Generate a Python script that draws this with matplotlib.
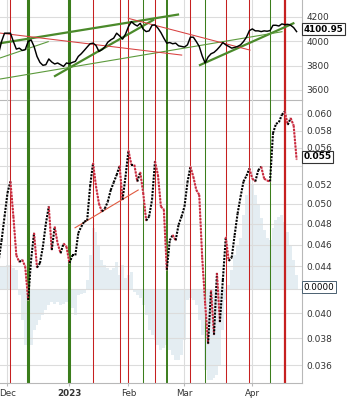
import matplotlib
matplotlib.use("Agg")
import matplotlib.pyplot as plt
import numpy as np
from matplotlib.ticker import FixedLocator, FuncFormatter, NullLocator
from matplotlib.transforms import blended_transform_factory

# trading-day index, 0 = 1 Dec 2022
days = np.arange(-3, 99)

price = [3900, 4000, 4067, 4067, 4067, 3998, 3936, 3944, 3925, 3931,
         3998, 4012, 3958, 3876, 3827, 3803, 3808, 3855, 3830, 3814,
         3822, 3808, 3794, 3822, 3816, 3827, 3835, 3876, 3898, 3925,
         3953, 3980, 3985, 3966, 3917, 3931, 3953, 3993, 4012, 4026,
         4067, 4045, 4018, 4059, 4121, 4162, 4140, 4126, 4148, 4100,
         4080, 4086, 4132, 4135, 4108, 4072, 4026, 3985, 3990, 3980,
         3985, 3963, 3958, 3953, 3971, 4034, 4034, 3998, 3958, 3880,
         3822, 3871, 3898, 3909, 3931, 3958, 3990, 3971, 3958, 3944,
         3950, 3958, 3971, 3998, 4034, 4088, 4102, 4086, 4086, 4080,
         4086, 4083, 4088, 4132, 4132, 4126, 4143, 4137, 4140, 4132,
         4113, 4080]

ratio = [0.0445, 0.0464, 0.0487, 0.0511, 0.0523, 0.0487, 0.0450, 0.0444, 0.0446, 0.0440,
         0.0411, 0.0446, 0.0471, 0.0439, 0.0443, 0.0458, 0.0480, 0.0497, 0.0455, 0.0477,
         0.0461, 0.0452, 0.0461, 0.0458, 0.0443, 0.0450, 0.0450, 0.0471, 0.0477, 0.0482,
         0.0483, 0.0518, 0.0543, 0.0518, 0.0500, 0.0492, 0.0495, 0.0502, 0.0514, 0.0522,
         0.0530, 0.0540, 0.0504, 0.0528, 0.0557, 0.0541, 0.0541, 0.0523, 0.0533, 0.0511,
         0.0483, 0.0487, 0.0504, 0.0545, 0.0530, 0.0497, 0.0494, 0.0437, 0.0464, 0.0469,
         0.0464, 0.0479, 0.0487, 0.0497, 0.0522, 0.0539, 0.0528, 0.0514, 0.0509, 0.0448,
         0.0408, 0.0376, 0.0419, 0.0383, 0.0434, 0.0393, 0.0428, 0.0467, 0.0445, 0.0448,
         0.0469, 0.0490, 0.0507, 0.0523, 0.0529, 0.0537, 0.0526, 0.0523, 0.0535, 0.0539,
         0.0526, 0.0524, 0.0523, 0.0577, 0.0588, 0.0590, 0.0599, 0.0603, 0.0587, 0.0595,
         0.0586, 0.0547]

# histogram indicator (x 1e-4)
hist = [23, 23, 23, 25, 25, 22, 20, -5, -30, -55,
        -60, -55, -40, -35, -30, -25, -20, -15, -12, -14,
        -12, -15, -14, -12, -10, -18, -25, -5, -4, -3,
        10, 35, 62, 58, 45, 30, 25, 22, 20, 22,
        28, 15, 25, 12, 15, 18, -2, -5, -8, -15,
        -25, -40, -45, -50, -55, -60, -58, -55, -60, -65,
        -70, -70, -65, -50, -10, -8, -10, -15, -30, -45,
        -80, -90, -90, -88, -85, -75, -40, -10, 5, 20,
        35, 45, 52, 75, 95, 110, 105, 95, 85, 72,
        60, 52, 50, 62, 70, 73, 75, 68, 58, 45,
        30, 15]

month_pos = [0, 21, 41, 60, 83]
month_labels = ["Dec", "2023", "Feb", "Mar", "Apr"]

price_ticks = [3600, 3800, 4000, 4200]
ratio_ticks = [0.036, 0.038, 0.040, 0.042, 0.044, 0.046, 0.048, 0.050,
               0.052, 0.054, 0.056, 0.058, 0.060]
hidden_ratio_labels = [0.042, 0.054]  # covered by the value boxes

last_price_label = "4100.95"
last_price = 4100.95
last_ratio = 0.055
last_hist = 0.0

# signal days
red_days = [1, 29, 38, 41, 50, 62, 74, 82]
red_thick_days = [94]
green_thick_days = [7, 21]
green_mid_days = [54]
green_thin_days = [46, 67, 89]

# trend lines on the price panel: (x0, y0, x1, y1)
green_thick_lines = [(-2.54, 3984, 57.8, 4220),
                     (16.1, 3715, 49.4, 4175),
                     (65.25, 3805, 96.9, 4148)]
green_thin_lines = [(-2.54, 3863, 13.8, 3997),
                    (-2.54, 3690, 93.05, 4079)]
red_lines = [(-2.54, 4068, 59.05, 3887),
             (40.95, 4189, 82.2, 3928)]
ratio_red_lines = [(22.9, 0.0476, 44.3, 0.0514)]

RED = "#c62020"
GREEN = "#3b7d1c"
GRID = "#dcdcdc"
SPINE = "#b8b8b8"
TXT = "#333333"

fig = plt.figure(figsize=(3.51, 4.03), dpi=100)
ax1 = fig.add_axes([0, 1 - 100 / 403, 302 / 351, 100 / 403])
ax2 = fig.add_axes([0, 20 / 403, 302 / 351, 283 / 403])
axh = ax2.twinx()
ax2.set_zorder(axh.get_zorder() + 1)
ax2.patch.set_visible(False)

xlim = (-2.54, 99.83)

# histogram behind
axh.bar(days, np.array(hist) * 1e-4, width=1.0, color="#e4edf2", linewidth=0)
axh.set_ylim(-0.0093, 0.0190)
axh.set_yticks([])
for s in axh.spines.values():
    s.set_visible(False)

for ax in (ax1, ax2):
    ax.set_xlim(*xlim)
    for s in ("left", "top"):
        ax.spines[s].set_visible(False)
    for s in ("right", "bottom"):
        ax.spines[s].set_color(SPINE)
    ax.yaxis.tick_right()
    ax.tick_params(axis="y", length=0, pad=3, labelsize=6.5, colors=TXT)
    for m in month_pos:
        ax.axvline(m, color=GRID, lw=0.8, zorder=0)
    for d in red_days:
        ax.axvline(d, color=RED, lw=0.75, zorder=1)
    for d in red_thick_days:
        ax.axvline(d, color=RED, lw=1.6, zorder=1)
    for d in green_thick_days:
        ax.axvline(d, color=GREEN, lw=2.2, zorder=1)
    for d in green_mid_days:
        ax.axvline(d, color=GREEN, lw=1.4, zorder=1)
    for d in green_thin_days:
        ax.axvline(d, color=GREEN, lw=0.75, zorder=1)

# price panel
ax1.set_ylim(3517.8, 4339.7)
ax1.set_yticks(price_ticks)
ax1.grid(axis="y", color=GRID, lw=0.8)
ax1.set_axisbelow(True)
ax1.set_xticks([])
ax1.plot(days, price, color="black", lw=1.05, zorder=4)
for x0, y0, x1, y1 in green_thick_lines:
    ax1.plot([x0, x1], [y0, y1], color="#4b8a2b", lw=1.6, zorder=3)
for x0, y0, x1, y1 in green_thin_lines:
    ax1.plot([x0, x1], [y0, y1], color="#5c9a3c", lw=0.8, zorder=3)
for x0, y0, x1, y1 in red_lines:
    ax1.plot([x0, x1], [y0, y1], color="#d84040", lw=0.75, zorder=3)


def ratio_fmt(v, _):
    if any(abs(v - h) < 1e-6 for h in hidden_ratio_labels):
        return ""
    return f"{v:.3f}"


# ratio panel (log scale)
ax2.set_yscale("log")
ax2.set_ylim(0.03471, 0.06173)
ax2.yaxis.set_major_locator(FixedLocator(ratio_ticks))
ax2.yaxis.set_major_formatter(FuncFormatter(ratio_fmt))
ax2.yaxis.set_minor_locator(NullLocator())
ax2.grid(axis="y", color=GRID, lw=0.8)
ax2.set_axisbelow(True)

ax2.set_xticks(month_pos)
ax2.set_xticklabels(month_labels)
ax2.tick_params(axis="x", length=2, pad=2, labelsize=6.3, colors=SPINE,
                labelcolor=TXT)
ax2.get_xticklabels()[1].set_fontweight("bold")

for i in range(len(days) - 1):
    xs = days[i:i + 2]
    ys = ratio[i:i + 2]
    if ys[1] >= ys[0]:
        ax2.plot(xs, ys, color="black", lw=1.5, ls=(0, (1, 0.6)), zorder=5)
    else:
        ax2.plot(xs, ys, color="#eeaab4", lw=1.0, zorder=4)
        ax2.plot(xs, ys, color="#c8283c", lw=1.5, ls=(0, (1, 0.6)), zorder=5)

for x0, y0, x1, y1 in ratio_red_lines:
    ax2.plot([x0, x1], [y0, y1], color="#e05a40", lw=0.8, zorder=3)

# current value boxes
box = dict(boxstyle="square,pad=0.18", fc="white", ec="#333333", lw=0.8)
tr1 = blended_transform_factory(ax1.transAxes, ax1.transData)
ax1.text(1.005, last_price, last_price_label, transform=tr1, fontsize=6.3,
         fontweight="bold", va="center", ha="left", bbox=box, zorder=10,
         clip_on=False)
tr2 = blended_transform_factory(ax2.transAxes, ax2.transData)
ax2.text(1.005, last_ratio, f"{last_ratio:.3f}", transform=tr2, fontsize=6.5,
         fontweight="bold", va="center", ha="left", bbox=box, zorder=10,
         clip_on=False)
box2 = dict(boxstyle="square,pad=0.18", fc="white", ec="#4a6070", lw=0.7)
trh = blended_transform_factory(ax2.transAxes, axh.transData)
ax2.text(1.005, last_hist + 0.0003, f"{last_hist:.4f}", transform=trh,
         fontsize=6.3, va="center", ha="left", bbox=box2, zorder=10,
         clip_on=False)

fig.savefig("out.png", dpi=100)
